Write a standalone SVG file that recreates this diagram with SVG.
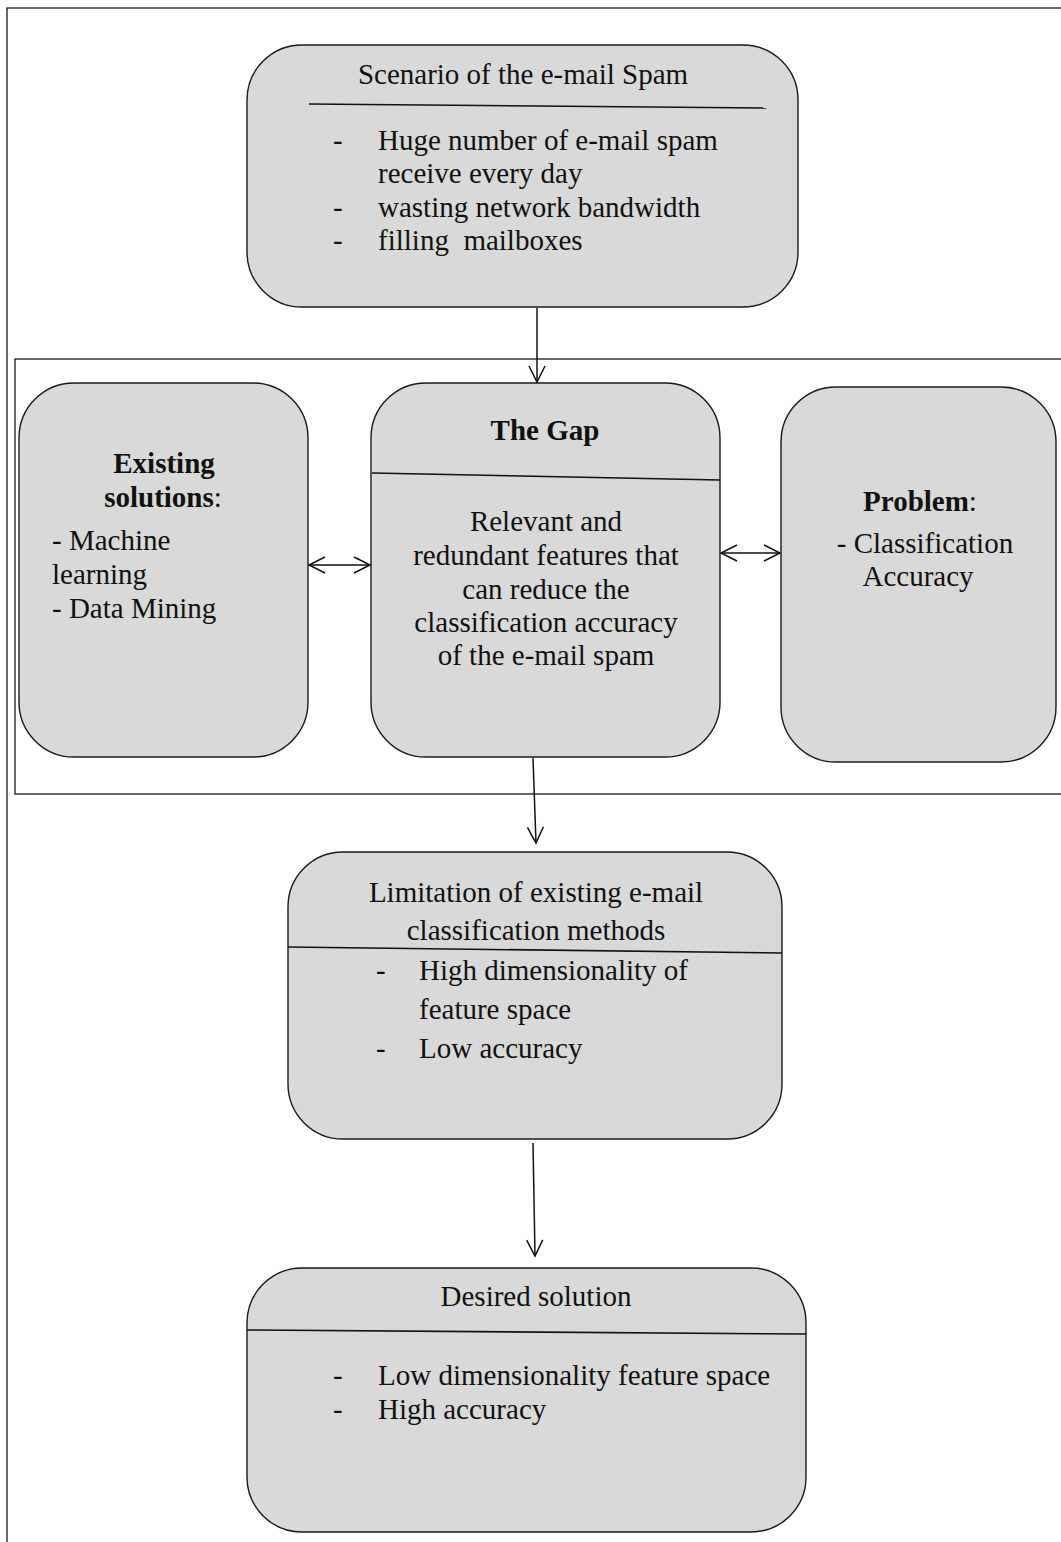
<svg xmlns="http://www.w3.org/2000/svg" width="1061" height="1542" viewBox="0 0 1061 1542">
<defs>
<style>
.box{fill:#d9d9d9;stroke:#1a1a1a;stroke-width:1.4}
.frame{fill:none;stroke:#1a1a1a;stroke-width:1.3}
.sep{stroke:#111;stroke-width:1.6;fill:none}
.t{font-family:"Liberation Serif","Times New Roman",serif;font-size:29px;fill:#111;white-space:pre}
.c{text-anchor:middle}
.b{font-weight:bold}
.conn{stroke:#111;stroke-width:1.5;fill:none}
</style>
<marker id="ah" viewBox="0 0 20 20" refX="18" refY="10" markerWidth="20" markerHeight="20" markerUnits="userSpaceOnUse" orient="auto-start-reverse">
<path d="M2,2 L18,10 L2,18" fill="none" stroke="#111" stroke-width="1.5"/>
</marker>
</defs>
<rect width="1061" height="1542" fill="#fff"/>
<rect class="frame" x="7" y="8" width="1060" height="1540"/>
<rect class="frame" x="15" y="359" width="1050" height="435"/>

<g id="scenario">
<rect class="box" x="247" y="45" width="551" height="262" rx="55"/>
<text class="t c" x="523" y="84">Scenario of the e-mail Spam</text>
<line class="sep" x1="309" y1="104" x2="766" y2="108"/>
<text class="t" x="333" y="150">-</text>
<text class="t" x="378" y="150">Huge number of e-mail spam</text>
<text class="t" x="378" y="183">receive every day</text>
<text class="t" x="333" y="217">-</text>
<text class="t" x="378" y="217">wasting network bandwidth</text>
<text class="t" x="333" y="250">-</text>
<text class="t" x="378" y="250" xml:space="preserve">filling  mailboxes</text>
</g>

<g id="existing">
<rect class="box" x="19" y="383" width="289" height="374" rx="55"/>
<text class="t c b" x="164" y="473">Existing</text>
<text class="t c" x="163" y="507"><tspan class="b">solutions</tspan>:</text>
<text class="t" x="52" y="550">- Machine</text>
<text class="t" x="52" y="584">learning</text>
<text class="t" x="52" y="618">- Data Mining</text>
</g>

<g id="gap">
<rect class="box" x="371" y="383" width="349" height="374" rx="55"/>
<text class="t c b" x="545" y="440">The Gap</text>
<line class="sep" x1="372" y1="473" x2="720" y2="480"/>
<text class="t c" x="546" y="531">Relevant and</text>
<text class="t c" x="546" y="565">redundant features that</text>
<text class="t c" x="546" y="599">can reduce the</text>
<text class="t c" x="546" y="632">classification accuracy</text>
<text class="t c" x="546" y="665">of the e-mail spam</text>
</g>

<g id="problem">
<rect class="box" x="781" y="387" width="275" height="375" rx="55"/>
<text class="t c" x="920" y="511"><tspan class="b">Problem</tspan>:</text>
<text class="t c" x="925" y="553">- Classification</text>
<text class="t c" x="918" y="586">Accuracy</text>
</g>

<g id="limitation">
<rect class="box" x="288" y="852" width="494" height="287" rx="55"/>
<text class="t c" x="536" y="902">Limitation of existing e-mail</text>
<text class="t c" x="536" y="940">classification methods</text>
<line class="sep" x1="288" y1="947" x2="782" y2="953"/>
<text class="t" x="376" y="980">-</text>
<text class="t" x="419" y="980">High dimensionality of</text>
<text class="t" x="419" y="1019">feature space</text>
<text class="t" x="376" y="1058">-</text>
<text class="t" x="419" y="1058">Low accuracy</text>
</g>

<g id="desired">
<rect class="box" x="247" y="1268" width="559" height="264" rx="55"/>
<text class="t c" x="536" y="1306">Desired solution</text>
<line class="sep" x1="247" y1="1330" x2="806" y2="1334"/>
<text class="t" x="333" y="1385">-</text>
<text class="t" x="378" y="1385">Low dimensionality feature space</text>
<text class="t" x="333" y="1419">-</text>
<text class="t" x="378" y="1419">High accuracy</text>
</g>

<g id="connectors">
<line class="conn" x1="537" y1="308" x2="537" y2="382" marker-end="url(#ah)"/>
<line class="conn" x1="309" y1="565" x2="370" y2="565" marker-start="url(#ah)" marker-end="url(#ah)"/>
<line class="conn" x1="721" y1="553" x2="780" y2="553" marker-start="url(#ah)" marker-end="url(#ah)"/>
<line class="conn" x1="533" y1="758" x2="536" y2="843" marker-end="url(#ah)"/>
<line class="conn" x1="533" y1="1143" x2="535" y2="1256" marker-end="url(#ah)"/>
</g>
</svg>
